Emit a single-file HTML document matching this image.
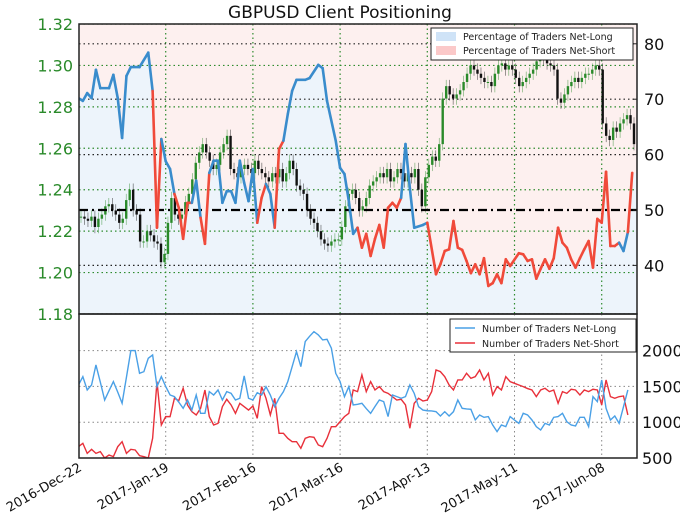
<!DOCTYPE html>
<html><head><meta charset="utf-8"><style>
html,body{margin:0;padding:0;background:#fff;}
svg{display:block;font-family:"DejaVu Sans","Liberation Sans",sans-serif;}
</style></head><body>
<svg id="chart" width="680" height="516" viewBox="0 0 680 516"></svg>
<script>
// ---------- DATA ----------
const dateLabels = ["2016-Dec-22","2017-Jan-19","2017-Feb-16","2017-Mar-16","2017-Apr-13","2017-May-11","2017-Jun-08"];
const dateTickIdx = [0,20,40,60,80,100,120];
const priceTicks = [1.18,1.20,1.22,1.24,1.26,1.28,1.30,1.32];
const pctTicks = [40,50,60,70,80];
const countTicks = [500,1000,1500,2000];

const closes = [1.227,1.226,1.225,1.227,1.222,1.226,1.228,1.232,1.233,1.230,1.228,1.224,1.226,1.235,1.240,1.230,1.228,1.215,1.215,1.220,1.218,1.215,1.214,1.205,1.209,1.224,1.236,1.228,1.226,1.228,1.234,1.238,1.245,1.253,1.258,1.262,1.258,1.254,1.250,1.252,1.258,1.262,1.266,1.250,1.248,1.246,1.250,1.252,1.250,1.248,1.254,1.250,1.248,1.246,1.244,1.248,1.246,1.250,1.244,1.248,1.254,1.250,1.242,1.240,1.238,1.230,1.226,1.224,1.220,1.216,1.214,1.213,1.215,1.216,1.216,1.222,1.232,1.238,
1.240,1.236,1.230,1.232,1.236,1.242,1.244,1.246,1.248,1.246,1.250,1.244,1.246,1.250,1.248,1.244,1.248,1.246,1.250,1.240,1.232,1.246,1.252,1.256,1.254,1.262,1.284,1.290,1.286,1.284,1.286,1.288,1.292,1.296,1.300,1.298,1.296,1.294,1.292,1.292,1.290,1.296,1.300,1.301,1.298,1.300,1.298,1.294,1.290,1.292,1.294,1.296,1.298,1.302,1.304,1.303,1.301,1.300,1.298,1.284,1.282,1.286,1.290,1.292,1.294,1.292,1.294,1.296,1.296,1.298,1.300,1.298,1.272,1.266,1.264,1.270,1.268,1.272,1.274,1.276,1.272,1.262];

const pctIdx = [0,1,2,3,4,5,7,8,9,10,11,12,14,16,17,18,19,20,21,22,23,24,25,26,27,28,29,30,31,32,33,34,35,36,37,38,39,40,41,42,43,44,45,46,47,48,49,50,52,53,55,56,57,59,60,61,62,63,64,65,66,67,68,69,70,71,72,73,74,75,76,77,79,80,82,83,84,85,86,87,88,89,90,91,92,93,94,95,96,97,98,99,101,102,103,104,105,106,107,108,109,110,111,112,113,114,115,116,117,118,119,120,121,122,123,124,125,126,127];
const pctVal = [70.2,69.7,71.1,70.2,75.3,72.0,72.0,74.4,70.2,63.0,74.2,75.8,75.8,78.4,71.5,46.8,62.8,58.8,57.4,52.9,50.4,44.8,51.3,51.3,55.3,48.6,43.9,56.7,58.9,58.9,51.3,53.4,53.4,51.3,58.9,54.9,51.6,57.4,47.7,52.2,54.7,52.9,46.8,61.0,62.5,67.3,71.5,73.5,73.5,73.8,76.2,75.6,69.7,62.5,57.6,56.5,51.6,45.7,46.8,43.2,45.7,41.7,44.8,47.3,43.2,50.4,51.3,50.4,52.2,61.9,53.9,46.8,47.3,47.7,38.4,40.2,42.6,42.9,48.0,43.2,42.8,40.8,38.6,40.2,38.4,41.3,36.3,36.8,38.4,36.8,41.1,39.9,42.2,42.0,40.8,41.1,37.6,39.4,41.1,39.4,41.3,46.8,44.1,43.2,41.1,39.6,41.3,42.9,44.4,39.6,48.4,47.7,56.9,43.5,43.5,44.1,42.6,46.0,56.7];
const pctSide = "LLLLLLLLLLLLLLLSSLLLSSSSLLSSLLLLLLLLLLLSSLLSSLLLLLLLLLLLLLLSSSSSSSSSSLLLLLSSSSSSSSSSSSSSSSSSSSSSSSSSSSSSSSSSSSSSSSSSLLSSSSSS";

const netLong = [1520,1636,1450,1520,1800,1560,1310,1440,1567,1420,1264,1630,2000,2000,1683,1706,1893,1940,1497,1636,1500,1380,1357,1280,1194,1310,1170,1380,1124,1124,1427,1380,1450,1310,1427,1403,1310,1334,1646,1334,1310,1413,1380,1497,1380,1217,1334,1427,1567,1776,1986,1776,2126,2200,2265,2219,2149,2158,2033,1683,1567,1357,1497,1241,1250,1264,1190,1124,1220,1310,1287,1078,1380,1357,1334,1357,1520,1403,1217,1170,1160,1157,1147,1087,1147,1087,1147,1310,1194,1185,1180,1031,1101,1068,1078,961,868,961,938,1078,1030,984,1124,1101,1031,938,891,984,961,1068,1078,1124,1008,961,947,1068,1068,938,1357,1287,1590,1194,1031,1087,984,1217,1450];
const netShort = [658,705,565,621,565,589,500,542,519,658,728,565,621,612,533,519,500,775,1567,961,1078,1078,1334,1301,1474,1241,1147,1101,1194,1450,1078,961,984,1217,1320,1241,1124,1264,1217,1170,1227,1054,1497,1334,1101,1334,845,845,775,728,728,635,775,798,789,682,658,775,938,938,1008,1078,1124,1450,1427,1660,1427,1567,1450,1497,1427,1403,1357,1310,1320,1241,915,1264,1334,1296,1310,1427,1730,1706,1636,1520,1450,1590,1590,1683,1613,1636,1730,1590,1683,1380,1497,1450,1636,1567,1543,1520,1497,1470,1450,1357,1450,1474,1427,1450,1264,1427,1403,1460,1450,1380,1450,1427,1460,1450,1241,1590,1357,1334,1357,1366,1101];

// ---------- SCALES ----------
const L=79, R=637, T1=24, B1=314, T2=314, B2=458;
const xIdx = i => 78.5 + i*4.36;
const yPrice = p => T1 + (1.32-p)/0.14*(B1-T1);
const yPct = v => 210 - (v-50)*5.54;
const yCount = v => B2 - (v-500)*0.0716;
const xCandle = k => 81 + k*(634-81)/(closes.length-1);

const NS="http://www.w3.org/2000/svg";
const svg=document.getElementById('chart');
function mk(tag,attrs,parent){const e=document.createElementNS(NS,tag);for(const k in attrs)e.setAttribute(k,attrs[k]);(parent||svg).appendChild(e);return e;}

// title
let t=mk('text',{x:340,y:18,'text-anchor':'middle','font-size':17,fill:'#111'});t.textContent='GBPUSD Client Positioning';



// clip
const defs=mk('defs',{});
const cp=mk('clipPath',{id:'c1'},defs);mk('rect',{x:L,y:T1,width:R-L,height:B1-T1},cp);
const cp2=mk('clipPath',{id:'c2'},defs);mk('rect',{x:L,y:T2,width:R-L,height:B2-T2},cp2);

// top panel fills
const gTop=mk('g',{'clip-path':'url(#c1)'});


mk('rect',{x:L,y:T1,width:R-L,height:B1-T1,fill:'#fdf0ef'},gTop);
let areaD='M'+xIdx(pctIdx[0])+','+B1;
pctIdx.forEach((ix,j)=>{areaD+=' L'+xIdx(ix)+','+yPct(pctVal[j]);});
areaD+=' L'+R+','+yPct(pctVal[pctVal.length-1])+' L'+R+','+B1+' Z';
const area=mk('path',{d:areaD,fill:'#edf4fb'},gTop);



// grids top
priceTicks.forEach(p=>{mk('line',{x1:L,x2:R,y1:yPrice(p),y2:yPrice(p),stroke:'#2e8b2e','stroke-width':1.2,'stroke-dasharray':'1.5,3'},gTop);});
pctTicks.filter(v=>v!==50).forEach(v=>{mk('line',{x1:L,x2:R,y1:yPct(v),y2:yPct(v),stroke:'#222','stroke-width':1.2,'stroke-dasharray':'1.5,3'},gTop);});
dateTickIdx.forEach(i=>{mk('line',{x1:xIdx(i),x2:xIdx(i),y1:T1,y2:B1,stroke:'#2e8b2e','stroke-width':1.2,'stroke-dasharray':'1.5,3'},gTop);});

// candles
closes.forEach((c,k)=>{
  const o = k===0 ? c : closes[k-1];
  const x=xCandle(k);
  const up=c>=o; const col=up?'#2a8a2a':'#111';
  const hi=Math.max(o,c)+0.003, lo=Math.min(o,c)-0.003;
  const w=mk('line',{x1:x,x2:x,y1:yPrice(hi),y2:yPrice(lo),stroke:col,'stroke-width':0.6,opacity:0.7},gTop);
  const top=yPrice(Math.max(o,c)), h=Math.max(1,yPrice(Math.min(o,c))-top);
  const b=mk('rect',{x:x-1.2,y:top,width:2.4,height:h,fill:col},gTop);
  
  
});

// 50 line
const l50=mk('line',{x1:L,x2:R,y1:yPct(50),y2:yPct(50),stroke:'#000','stroke-width':2.2,'stroke-dasharray':'9,4,2,4'},gTop);



// pct line segments
for(let j=1;j<pctIdx.length;j++){
  const col=pctSide[j]==='L'?'#3a8ccc':'#f04a3a';
  const s=mk('line',{x1:xIdx(pctIdx[j-1]),y1:yPct(pctVal[j-1]),x2:xIdx(pctIdx[j]),y2:yPct(pctVal[j]),stroke:col,'stroke-width':2.6,'stroke-linecap':'round'},gTop);
  
  
}
mk('rect',{x:L,y:T1,width:R-L,height:B1-T1,fill:'none',stroke:'#222','stroke-width':1.5});

// top axes labels
priceTicks.forEach(p=>{const e=mk('text',{x:73,y:yPrice(p)+6,'text-anchor':'end','font-size':16,fill:'#2a8a2a'});e.textContent=p.toFixed(2);

});
[40,50,60,70,80].forEach(v=>{const e=mk('text',{x:644,y:yPct(v)+6,'font-size':16,fill:'#111'});e.textContent=v;


mk('line',{x1:R,x2:R-4,y1:yPct(v),y2:yPct(v),stroke:'#222'});});

// top legend
const lg=mk('g',{});


mk('rect',{x:431,y:28,width:202,height:32,fill:'#fff',stroke:'#222','stroke-width':1},lg);
mk('rect',{x:436,y:32,width:20,height:9,fill:'#cfe3f7'},lg);
mk('rect',{x:436,y:46,width:20,height:9,fill:'#fbc9c9'},lg);
let e1=mk('text',{x:463,y:40,'font-size':9.5,fill:'#222'},lg);e1.textContent='Percentage of Traders Net-Long';
let e2=mk('text',{x:463,y:54,'font-size':9.5,fill:'#222'},lg);e2.textContent='Percentage of Traders Net-Short';

// bottom panel
const gB=mk('g',{'clip-path':'url(#c2)'});


countTicks.forEach(v=>{mk('line',{x1:L,x2:R,y1:yCount(v),y2:yCount(v),stroke:'#888','stroke-width':1,'stroke-dasharray':'1.5,3'},gB);});
dateTickIdx.forEach(i=>{mk('line',{x1:xIdx(i),x2:xIdx(i),y1:T2,y2:B2,stroke:'#888','stroke-width':1,'stroke-dasharray':'1.5,3'},gB);});
function poly(arr,col,name){
  const pts=arr.map((v,i)=>xIdx(i)+','+yCount(v)).join(' ');
  const p=mk('polyline',{points:pts,fill:'none',stroke:col,'stroke-width':1.4},gB);
  
  
}
poly(netShort,'#e8303a','net-short-count-line');
poly(netLong,'#4aa0e6','net-long-count-line');
mk('rect',{x:L,y:T2,width:R-L,height:B2-T2,fill:'none',stroke:'#222','stroke-width':1.5});
countTicks.forEach(v=>{const e=mk('text',{x:642,y:yCount(v)+6,'font-size':16,fill:'#111'});e.textContent=v;

});

// bottom legend
const lg2=mk('g',{});


mk('rect',{x:450,y:319,width:186,height:33,fill:'#fff',stroke:'#222','stroke-width':1},lg2);
mk('line',{x1:455,x2:475,y1:328,y2:328,stroke:'#4aa0e6','stroke-width':1.5},lg2);
mk('line',{x1:455,x2:475,y1:343,y2:343,stroke:'#e8303a','stroke-width':1.5},lg2);
let e3=mk('text',{x:482,y:332,'font-size':9.5,fill:'#222'},lg2);e3.textContent='Number of Traders Net-Long';
let e4=mk('text',{x:482,y:347,'font-size':9.5,fill:'#222'},lg2);e4.textContent='Number of Traders Net-Short';

// date labels
dateLabels.forEach((d,k)=>{
  const x=xIdx(dateTickIdx[k]);
  const e=mk('text',{x:x+4,y:B2+12,'text-anchor':'end','font-size':13,fill:'#111',transform:'rotate(-30 '+(x+4)+' '+(B2+12)+')'});
  e.textContent=d;
  
  
});
</script>
</body></html>
